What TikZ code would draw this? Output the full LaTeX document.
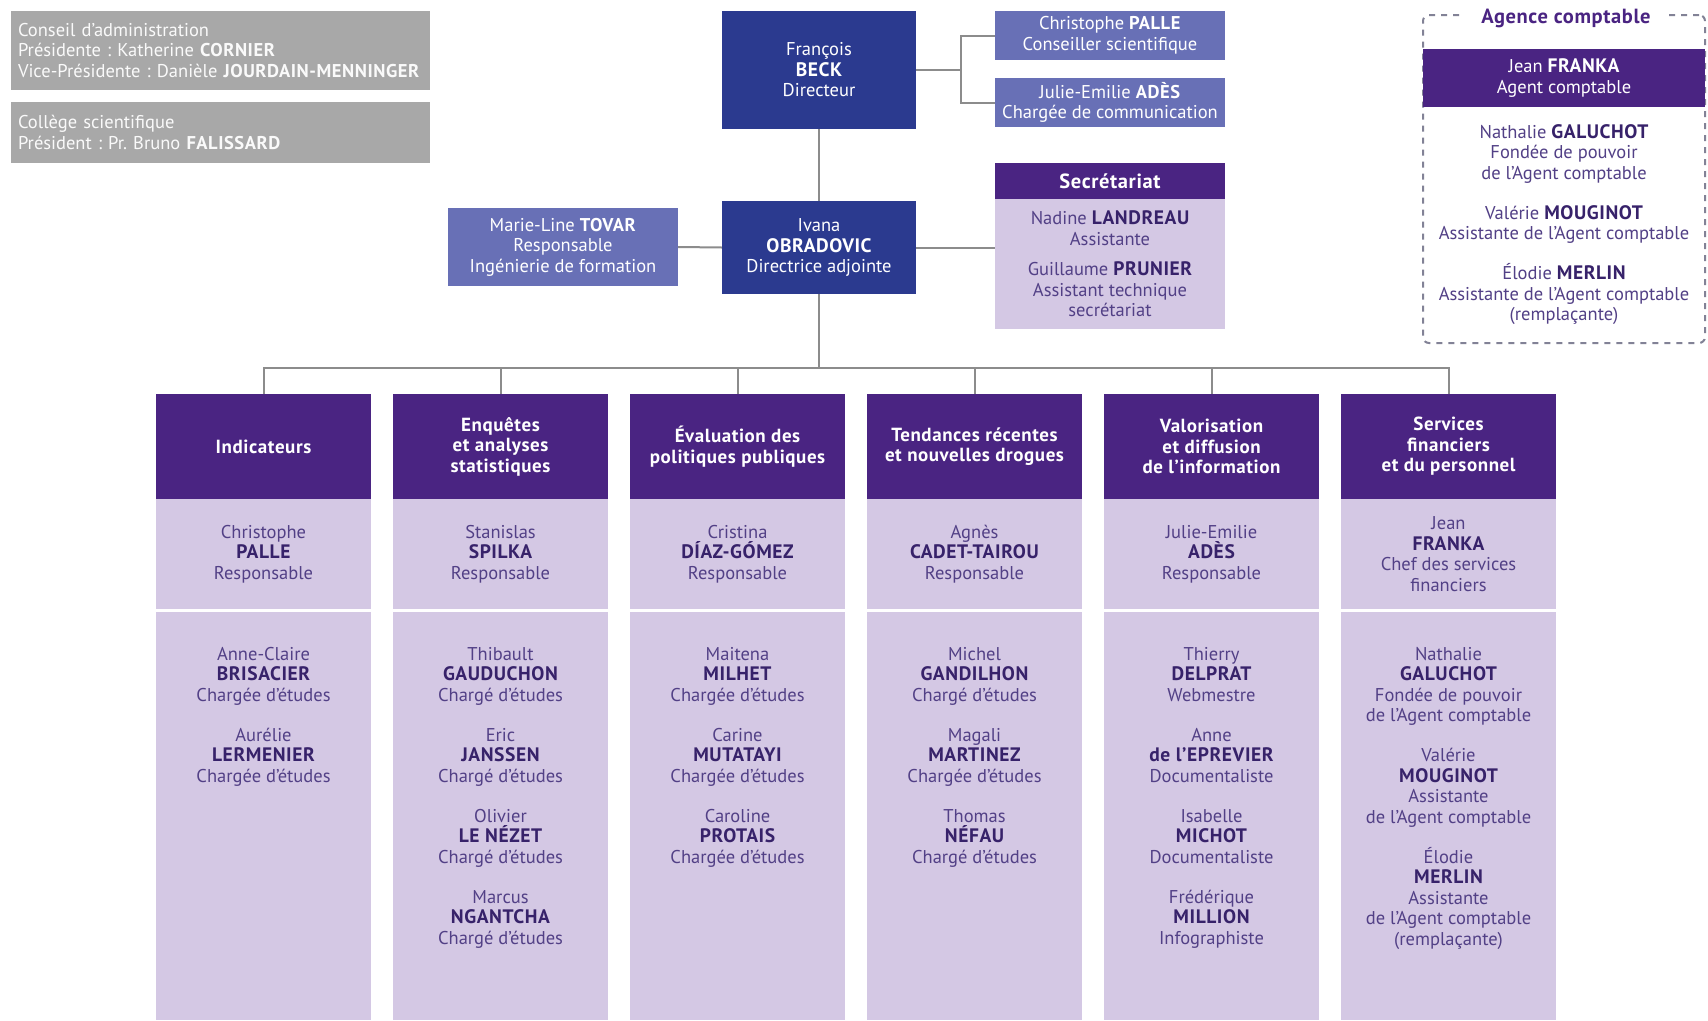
\documentclass[tikz,border=0pt]{standalone}
\usepackage{fontspec}
\setmainfont[BoldFeatures={LetterSpace=3}]{PT Sans}
\frenchspacing
\definecolor{navy}{RGB}{43,58,143}
\definecolor{midblue}{RGB}{104,112,182}
\definecolor{hpurple}{RGB}{74,36,130}
\definecolor{lav}{RGB}{212,200,228}
\definecolor{txtreg}{RGB}{82,64,134}
\definecolor{txtbold}{RGB}{55,34,106}
\definecolor{grayb}{RGB}{168,168,168}
\definecolor{linec}{RGB}{140,140,140}
\definecolor{dashc}{RGB}{130,130,150}
\newcommand{\nm}[1]{{\fontsize{19.5}{20.5}\selectfont\bfseries\color{txtbold}#1}}
\newcommand{\bnm}[1]{{\fontsize{19.5}{20.5}\selectfont\bfseries #1}}
\tikzset{
  base/.style={inner sep=0pt, align=center, font=\fontsize{18.5}{20.5}\selectfont},
  navybox/.style={base, fill=navy, text=white, minimum width=194},
  bluebox/.style={base, fill=midblue, text=white, minimum width=230},
  graybox/.style={base, fill=grayb, text=white!96!gray, minimum width=419, text width=405, align=left},
  headbox/.style={base, fill=hpurple, text=white, font=\bfseries\fontsize{19}{20.5}\selectfont, minimum width=215, minimum height=105},
  lavbox/.style={base, fill=lav, text=txtreg, minimum width=215},
  lavtext/.style={base, text=txtreg},
  conn/.style={draw=linec, line width=2},
}
\newcommand{\orgcol}[4]{%
  \pgfmathsetmacro\cx{263.5+237*(#1-1)}
  \node[headbox] (h#1) at (\cx,446.5) {#2};
  \node[lavbox, minimum height=110] (t#1) at (\cx,554) {#3};
  \node[lavbox, minimum height=408] (l#1) at (\cx,816) {};
  \node[lavtext, anchor=north] (lt#1) at (\cx,647) {#4};
}
\begin{document}
\begin{tikzpicture}[x=1pt,y=-1pt]
\useasboundingbox[fill=white] (0,0) rectangle (1708,1020);

% gray boxes
\node[graybox, minimum height=79] (ca) at (220.5,50.5) {Conseil d'administration\\Présidente : Katherine \textbf{CORNIER}\\Vice-Présidente : Danièle \textbf{JOURDAIN-MENNINGER}};
\node[graybox, minimum height=61] (cs) at (220.5,132.5) {Collège scientifique\\Président : Pr. Bruno \textbf{FALISSARD}};

% direction
\node[navybox, minimum height=118] (dir) at (819,70) {François\\\bnm{BECK}\\Directeur};
\node[bluebox, minimum height=49] (palle) at (1110,35.5) {Christophe \textbf{PALLE}\\Conseiller scientifique};
\node[bluebox, minimum height=49] (ades) at (1110,102.5) {Julie-Emilie \textbf{ADÈS}\\Chargée de communication};
\node[navybox, minimum height=93] (ivana) at (819,247.5) {Ivana\\\bnm{OBRADOVIC}\\Directrice adjointe};
\node[bluebox, minimum height=78] (tovar) at (563,247) {Marie-Line \textbf{TOVAR}\\Responsable\\Ingénierie de formation};
\node[base, fill=hpurple, text=white, font=\bfseries\fontsize{20.5}{22}\selectfont, minimum width=230, minimum height=36] (sechead) at (1110,181) {Secrétariat};
\node[base, fill=lav, text=txtreg, minimum width=230, minimum height=130] (secbody) at (1110,264) {Nadine \nm{LANDREAU}\\Assistante\\[10pt]Guillaume \nm{PRUNIER}\\Assistant technique\\secrétariat};

% agence comptable
\node[draw=dashc, line width=2, dash pattern=on 6pt off 6pt, rounded corners=6, minimum width=282, minimum height=328, inner sep=0pt] (agence) at (1564,179) {};
\node[base, fill=hpurple, text=white, minimum width=282, minimum height=58] (franka) at (1564,78) {Jean \bnm{FRANKA}\\Agent comptable};
\node[base, fill=white, text=hpurple, font=\bfseries\fontsize{20.5}{22}\selectfont, inner xsep=16pt, inner ysep=3pt] (agtitle) at (1566,18) {Agence comptable};
\node[lavtext, anchor=north] (agtext) at (1564,124) {Nathalie \nm{GALUCHOT}\\Fondée de pouvoir\\de l'Agent comptable\\[19.5pt]Valérie \nm{MOUGINOT}\\Assistante de l'Agent comptable\\[19.5pt]Élodie \nm{MERLIN}\\Assistante de l'Agent comptable\\(remplaçante)};

% columns
\orgcol{1}{Indicateurs}{Christophe\\\nm{PALLE}\\Responsable}{Anne-Claire\\\nm{BRISACIER}\\Chargée d'études\\[19.5pt]Aurélie\\\nm{LERMENIER}\\Chargée d'études}
\orgcol{2}{Enquêtes\\et analyses\\statistiques}{Stanislas\\\nm{SPILKA}\\Responsable}{Thibault\\\nm{GAUDUCHON}\\Chargé d'études\\[19.5pt]Eric\\\nm{JANSSEN}\\Chargé d'études\\[19.5pt]Olivier\\\nm{LE NÉZET}\\Chargé d'études\\[19.5pt]Marcus\\\nm{NGANTCHA}\\Chargé d'études}
\orgcol{3}{Évaluation des\\politiques publiques}{Cristina\\\nm{DÍAZ-GÓMEZ}\\Responsable}{Maitena\\\nm{MILHET}\\Chargée d'études\\[19.5pt]Carine\\\nm{MUTATAYI}\\Chargée d'études\\[19.5pt]Caroline\\\nm{PROTAIS}\\Chargée d'études}
\orgcol{4}{Tendances récentes\\et nouvelles drogues}{Agnès\\\nm{CADET-TAIROU}\\Responsable}{Michel\\\nm{GANDILHON}\\Chargé d'études\\[19.5pt]Magali\\\nm{MARTINEZ}\\Chargée d'études\\[19.5pt]Thomas\\\nm{NÉFAU}\\Chargé d'études}
\orgcol{5}{Valorisation\\et diffusion\\de l'information}{Julie-Emilie\\\nm{ADÈS}\\Responsable}{Thierry\\\nm{DELPRAT}\\Webmestre\\[19.5pt]Anne\\\nm{de l'EPREVIER}\\Documentaliste\\[19.5pt]Isabelle\\\nm{MICHOT}\\Documentaliste\\[19.5pt]Frédérique\\\nm{MILLION}\\Infographiste}
\orgcol{6}{Services\\financiers\\et du personnel}{Jean\\\nm{FRANKA}\\Chef des services\\financiers}{Nathalie\\\nm{GALUCHOT}\\Fondée de pouvoir\\de l'Agent comptable\\[19.5pt]Valérie\\\nm{MOUGINOT}\\Assistante\\de l'Agent comptable\\[19.5pt]Élodie\\\nm{MERLIN}\\Assistante\\de l'Agent comptable\\(remplaçante)}

% connectors
\coordinate (jr) at (961,70);
\coordinate (bus) at (819,368);
\draw[conn] (dir.south) -- (ivana.north);
\draw[conn] (dir.east) -- (jr);
\draw[conn] (palle.west) -| (jr) |- (ades.west);
\draw[conn] (ivana.west) -- (tovar.east);
\draw[conn] (ivana.east) -- (ivana.east -| secbody.west);
\draw[conn] (ivana.south) -- (bus);
\foreach \k in {1,...,6} \draw[conn] (bus) -| (h\k.north);
\end{tikzpicture}
\end{document}
